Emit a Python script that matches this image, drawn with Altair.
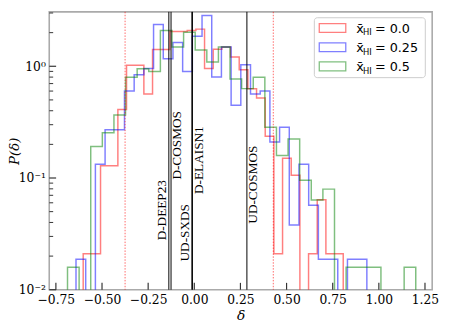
import altair as alt
import numpy as np
import pandas as pd

# ---------------- data ----------------
series_labels = ["0.0", "0.25", "0.5"]
series_colors = ["#ff0000", "#0000ff", "#008000"]

# histogram bin range (first and last edge) of each series, 30 bins each
red_range = [-0.602, 0.807]
blue_range = [-0.641, 0.935]
green_range = [-0.687, 1.200]

red_density = [0.021, 0.021, 0.129, 0.129, 0.41, 1.02, 1.02, 0.565, 1.41, 1.41,
               2.05, 2.05, 2.09, 2.15, 0.957, 1.42, 1.49, 1.21, 0.93, 0.63,
               0.52, 0.236, 0.021, 0.150, 0.106, 0.0, 0.021, 0.064, 0.021, 0.021]
blue_density = [0.0187, 0.0, 0.133, 0.27, 0.27, 0.60, 0.84, 0.957, 2.37, 1.17,
                1.63, 0.90, 1.86, 2.85, 0.80, 1.49, 0.448, 1.03, 0.565, 0.60,
                0.21, 0.285, 0.038, 0.133, 0.057, 0.0187, 0.0187, 0.0, 0.0187, 0.0187]
green_density = [0.0159, 0.0, 0.191, 0.254, 0.366, 0.796, 0.95, 0.90, 2.09, 1.49,
                 2.02, 1.40, 1.09, 1.49, 0.77, 0.631, 0.796, 0.285, 0.159, 0.223,
                 0.0954, 0.0636, 0.0795, 0.0, 0.0159, 0.0159, 0.0159, 0.0, 0.0, 0.0159]

field_names = ["D-DEEP23", "D-COSMOS", "UD-SXDS", "D-ELAISN1", "UD-COSMOS"]
field_delta = [-0.138, -0.126, -0.013, -0.010, 0.285]
dotted_delta = [-0.375, 0.428]

x_tick_values = [-0.75, -0.5, -0.25, 0.0, 0.25, 0.5, 0.75, 1.0, 1.25]
y_major_values = [0.01, 0.1, 1.0]
y_minor_values = [0.02, 0.03, 0.04, 0.05, 0.06, 0.07, 0.08, 0.09,
                  0.2, 0.3, 0.4, 0.5, 0.6, 0.7, 0.8, 0.9, 2.0, 3.0]

# ---------------- layout ----------------
W, H = 390, 283
x_scale = alt.Scale(domain=[-0.786, 1.289], nice=False, zero=False)
y_scale = alt.Scale(type="log", domain=[0.01, 3.07], nice=False)

# label layout: (screen offset from its line, vertical centre in px)
label_dy = [-6.5, 6.5, -6.5, 7.0, 6.5]
label_y = [202, 136, 225, 151, 176]

x_axis = alt.Axis(values=x_tick_values, format=".2f", title="δ", ticks=False,
                  domain=False, grid=False, labelFont="DejaVu Serif", labelFontSize=12.5,
                  labelColor="black", labelPadding=4, labelOverlap=False,
                  titleFont="DejaVu Serif", titleFontStyle="italic", titleFontWeight="normal",
                  titleFontSize=14, titleColor="black", titlePadding=3)
y_axis = alt.Axis(values=y_major_values, title="P(δ)", ticks=False,
                  domain=False, grid=False,
                  labelExpr="datum.value > 0.5 ? '10⁰' : (datum.value > 0.05 ? '10⁻¹' : '10⁻²')",
                  labelFont="DejaVu Serif", labelFontSize=12.5, labelColor="black",
                  labelPadding=4, labelOverlap=False,
                  titleFont="DejaVu Serif", titleFontStyle="italic", titleFontWeight="normal",
                  titleFontSize=13.5, titleColor="black", titleAngle=270,
                  titleX=-35, titleY=H / 2, titleAlign="center", titleBaseline="middle")


def X(field):
    return alt.X(field, scale=x_scale, axis=x_axis)


def Y(field):
    return alt.Y(field, scale=y_scale, axis=y_axis)


def step_frame(rng, dens):
    edges = np.linspace(rng[0], rng[1], len(dens) + 1)
    floor = 1e-4  # zero-height bins drop below the (clipped) bottom
    xs = [edges[0]] + list(edges[:-1]) + [edges[-1]]
    ys = [floor] + [d if d > 0 else floor for d in dens] + [floor]
    return pd.DataFrame({"delta": xs, "p": ys, "i": list(range(len(xs)))})


layers = []
for k, (rng, dens) in enumerate([(red_range, red_density),
                                 (blue_range, blue_density),
                                 (green_range, green_density)]):
    layers.append(
        alt.Chart(step_frame(rng, dens)).mark_line(
            interpolate="step-after", clip=True, color=series_colors[k],
            strokeOpacity=0.5, strokeWidth=1.5
        ).encode(
            x=X("delta:Q"),
            y=Y("p:Q"),
            order=alt.Order("i:Q"),
        )
    )

fields_df = pd.DataFrame({"delta": field_delta, "name": field_names})
layers.append(
    alt.Chart(fields_df).mark_rule(color="black", strokeWidth=1.0).encode(x=X("delta:Q"))
)
layers.append(
    alt.Chart(pd.DataFrame({"delta": dotted_delta})).mark_rule(
        color="#ff0000", strokeOpacity=0.6, strokeWidth=1, strokeDash=[1.5, 1.5]
    ).encode(x=X("delta:Q"))
)
for j, name in enumerate(field_names):
    layers.append(
        alt.Chart(fields_df.iloc[[j]]).mark_text(
            angle=270, align="center", baseline="middle", dy=label_dy[j],
            font="Liberation Serif", fontSize=13.5, color="black"
        ).encode(
            x=X("delta:Q"),
            y=alt.value(label_y[j]),
            text="name:N",
        )
    )

# inward ticks
layers.append(
    alt.Chart(pd.DataFrame({"delta": x_tick_values})).mark_rule(color="#333333", strokeWidth=1.2).encode(
        x=X("delta:Q"), y=alt.value(H), y2=alt.value(H - 7)
    )
)
layers.append(
    alt.Chart(pd.DataFrame({"p": y_major_values})).mark_rule(color="#333333", strokeWidth=1.2).encode(
        y=Y("p:Q"), x=alt.value(0), x2=alt.value(7)
    )
)
layers.append(
    alt.Chart(pd.DataFrame({"p": y_minor_values})).mark_rule(color="#333333", strokeWidth=1.0).encode(
        y=Y("p:Q"), x=alt.value(0), x2=alt.value(4)
    )
)

# legend (drawn by hand to allow the subscript)
one = pd.DataFrame({"a": [0]})
layers.append(
    alt.Chart(one).mark_rect(fill="white", fillOpacity=0.85, stroke="#cccccc",
                             strokeWidth=1, cornerRadius=3).encode(
        x=alt.value(270), x2=alt.value(383), y=alt.value(6), y2=alt.value(67)
    )
)
row_y = [16.5, 36, 55.5]
for k, lab in enumerate(series_labels):
    cy = row_y[k]
    layers.append(
        alt.Chart(one).mark_rect(filled=False, color=series_colors[k], strokeOpacity=0.5,
                                 strokeWidth=1.3).encode(
            x=alt.value(275), x2=alt.value(302), y=alt.value(cy - 4.5), y2=alt.value(cy + 4.5)
        )
    )
    layers.append(
        alt.Chart(one).mark_text(text="x\u0304", align="left", baseline="alphabetic",
                                 font="DejaVu Sans", fontSize=13, color="black").encode(
            x=alt.value(312.7), y=alt.value(cy + 4.7)
        )
    )
    layers.append(
        alt.Chart(one).mark_text(text="HI", align="left", baseline="alphabetic",
                                 font="DejaVu Sans", fontSize=8.5, color="black").encode(
            x=alt.value(319.5), y=alt.value(cy + 7.5)
        )
    )
    layers.append(
        alt.Chart(one).mark_text(text="= " + lab, align="left", baseline="alphabetic",
                                 font="DejaVu Sans", fontSize=13, color="black").encode(
            x=alt.value(331.7), y=alt.value(cy + 4.7)
        )
    )

chart = alt.layer(*layers).properties(
    width=W, height=H,
    autosize=alt.AutoSizeParams(type="none"),
    padding={"left": 42, "top": 1, "right": 10, "bottom": 33},
).configure_view(stroke="#aaaaaa", strokeWidth=1.6)

chart.save("out.html", embed_options={"renderer": "svg", "actions": False})
